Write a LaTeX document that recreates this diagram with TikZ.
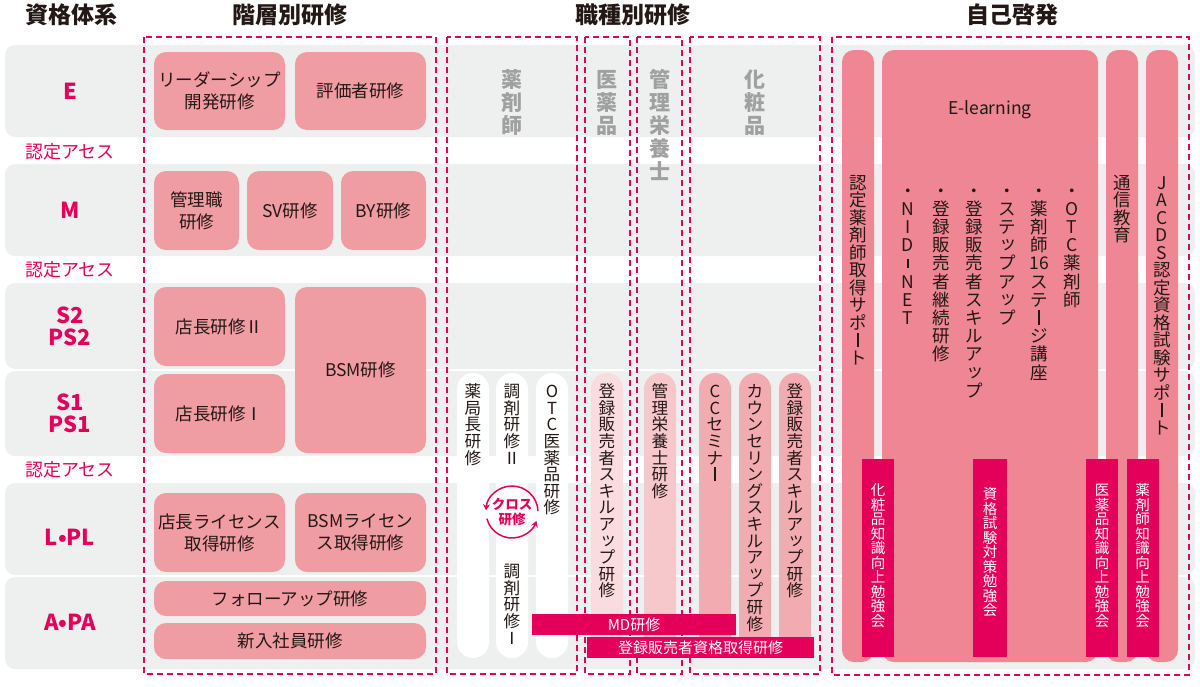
\documentclass[tikz,border=0pt]{standalone}
\usepackage{fontspec}
\setmainfont{Noto Sans CJK JP}
\usepackage{tikz}
\usetikzlibrary{arrows.meta,positioning}

\definecolor{mag}{RGB}{228,0,90}
\definecolor{rowgray}{RGB}{238,240,239}
\definecolor{boxpink}{RGB}{240,156,163}
\definecolor{selfpink}{RGB}{238,135,147}
\definecolor{pkA}{RGB}{250,219,222}
\definecolor{pkB}{RGB}{246,199,203}
\definecolor{pkC}{RGB}{241,171,177}
\definecolor{ink}{RGB}{35,24,21}
\definecolor{headgray}{RGB}{160,160,160}

\ExplSyntaxOn
\dim_new:N \l_vt_pitch_dim
\cs_new_protected:Npn \vt_cell:n #1
  {
    \hbox_to_wd:nn { 1em }
      {
        \hss
        \vrule height 0.88\l_vt_pitch_dim depth 0.12\l_vt_pitch_dim width 0pt
        \str_case:nnF { #1 }
          {
            { ー } { \vrule height 0.8em depth 0.02em width 0.07em }
            { - } { \vrule height 0.62em depth -0.08em width 0.08em }
            { ッ } { \kern 0.15em \raisebox{0.1em}{ッ} }
          }
          { #1 }
        \hss
      }
  }
\NewDocumentCommand \vtext { O{1} m }
  {
    \vbox
      {
        \offinterlineskip
        \dim_set:Nn \l_vt_pitch_dim { #1 em }
        \tl_map_function:nN { #2 } \vt_cell:n
      }
  }
\ExplSyntaxOff

\begin{document}
\begin{tikzpicture}[x=1pt, y=-1pt,
      every node/.style={inner sep=0pt, outer sep=0pt},
      title/.style={font=\fontsize{23}{26}\selectfont\bfseries, text=ink},
      level/.style={font=\fontsize{22}{22}\selectfont\bfseries, text=mag, align=center},
      assess/.style={font=\fontsize{18}{18}\selectfont, text=mag},
      band/.style={fill=rowgray, rounded corners=10pt},
      frame/.style={draw=mag, line width=1.2pt, dash pattern=on 6pt off 4pt},
      course/.style={fill=boxpink, rounded corners=12pt, align=center, text=ink,
                     font=\fontsize{17.5}{22}\selectfont},
      pill/.style={rounded corners=16pt, minimum width=32pt, minimum height=285pt},
      vlabel/.style={text=ink, font=\fontsize{16.6}{17}\selectfont},
      jobhead/.style={text=headgray, font=\fontsize{21}{21}\selectfont\bfseries, anchor=north},
      selfbar/.style={fill=selfpink, rounded corners=12pt, minimum width=32pt,
                      minimum height=612pt},
      selftext/.style={text=ink, font=\fontsize{17.5}{18}\selectfont},
      study/.style={fill=mag, minimum width=32pt, minimum height=198pt},
      studytext/.style={text=white, font=\fontsize{14.5}{15}\selectfont},
      strip/.style={fill=mag, text=white, font=\fontsize{15}{15}\selectfont,
                    minimum height=21pt},
      >={Stealth[length=6pt, width=7pt]}]

    \path[use as bounding box] (0,0) rectangle (1200,686);

    \node[title] (hsys) at (71,15) {資格体系};
    \node[title] (hlevel) at (290,15) {階層別研修};
    \node[title] (hjob) at (633,15) {職種別研修};
    \node[title] (hself) at (1012,15) {自己啓発};

    \fill[band] (5,45) rectangle (1195,137);
    \fill[band] (5,164) rectangle (1195,256);
    \fill[band] (5,283) rectangle (1195,369);
    \fill[band] (5,371) rectangle (1195,456);
    \fill[band] (5,483) rectangle (1195,575);
    \fill[band] (5,577) rectangle (1195,669);

    \node[level] (lvE) at (70,91) {E};
    \node[level] (lvM) at (70,210) {M};
    \node[level] (lvS2) at (70,326) {S2\\PS2};
    \node[level] (lvS1) at (70,413) {S1\\PS1};
    \node[level] (lvL) at (70,537) {L•PL};
    \node[level] (lvA) at (70,622) {A•PA};
    \node[assess] (as1) at (70,152) {認定アセス};
    \node[assess] (as2) at (70,270) {認定アセス};
    \node[assess] (as3) at (70,470) {認定アセス};

    \draw[frame] (144,37) rectangle (436,674);
    \draw[frame] (447,37) rectangle (577,674);
    \draw[frame] (585,37) rectangle (630,674);
    \draw[frame] (637,37) rectangle (682,674);
    \draw[frame] (690,37) rectangle (820,674);
    \draw[frame] (832,37) rectangle (1189,675);

    \node[course, minimum width=131pt, minimum height=78pt] (lead) at (219.5,91)
      {リーダーシップ\\開発研修};
    \node[course, minimum width=131pt, minimum height=78pt] (rater) at (360.5,91)
      {評価者研修};
    \node[course, minimum width=85pt, minimum height=79pt] (mgr) at (196.5,210.5)
      {管理職\\研修};
    \node[course, minimum width=86pt, minimum height=79pt] (sv) at (290,210.5)
      {SV研修};
    \node[course, minimum width=85pt, minimum height=79pt] (by) at (383.5,210.5)
      {BY研修};
    \node[course, minimum width=131pt, minimum height=79pt] (store2) at (219.5,326.5)
      {店長研修Ⅱ};
    \node[course, minimum width=131pt, minimum height=79pt] (store1) at (219.5,413.5)
      {店長研修Ⅰ};
    \node[course, minimum width=131pt, minimum height=166pt] (bsm) at (360.5,370)
      {BSM研修};
    \node[course, minimum width=131pt, minimum height=79pt] (storelic) at (219.5,532.5)
      {店長ライセンス\\取得研修};
    \node[course, minimum width=131pt, minimum height=79pt] (bsmlic) at (360.5,532.5)
      {BSMライセン\\ス取得研修};
    \node[course, minimum width=272pt, minimum height=35pt] (follow) at (290,598.5)
      {フォローアップ研修};
    \node[course, minimum width=272pt, minimum height=36pt] (newhire) at (290,641)
      {新入社員研修};

    \node[jobhead] (jpharm) at (512,67) {\vtext[1.1]{薬剤師}};
    \node[jobhead] (jdrug) at (607,67) {\vtext[1.1]{医薬品}};
    \node[jobhead] (jdiet) at (660,67) {\vtext[1.1]{管理栄養士}};
    \node[jobhead] (jcosm) at (755,67) {\vtext[1.1]{化粧品}};

    \node[pill, fill=white] (chief) at (473,515.5) {};
    \node[pill, fill=white] (disp) at (512,515.5) {};
    \node[pill, fill=white] (otc) at (552,515.5) {};
    \node[pill, fill=pkA] (drugskill) at (607,515.5) {};
    \node[pill, fill=pkB] (diet) at (660,515.5) {};
    \node[pill, fill=pkC] (ccsem) at (715,515.5) {};
    \node[pill, fill=pkC] (counsel) at (755,515.5) {};
    \node[pill, fill=pkC] (cosmskill) at (795,515.5) {};

    \node[vlabel, below=10pt of chief.north] (chiefl) {\vtext{薬局長研修}};
    \node[vlabel, below=10pt of disp.north] (disp2l) {\vtext{調剤研修Ⅱ}};
    \node[vlabel, below=190pt of disp.north] (disp1l) {\vtext{調剤研修Ⅰ}};
    \node[vlabel, below=10pt of otc.north] (otcl) {\vtext{OTC医薬品研修}};
    \node[vlabel, below=10pt of drugskill.north] (drugskilll)
      {\vtext{登録販売者スキルアップ研修}};
    \node[vlabel, below=10pt of diet.north] (dietl) {\vtext{管理栄養士研修}};
    \node[vlabel, below=10pt of ccsem.north] (ccseml) {\vtext{CCセミナー}};
    \node[vlabel, below=10pt of counsel.north] (counsell)
      {\vtext{カウンセリングスキルアップ研修}};
    \node[vlabel, below=10pt of cosmskill.north] (cosmskilll)
      {\vtext{登録販売者スキルアップ研修}};

    \node[circle, fill=white, minimum size=52pt, text=mag, align=center,
          font=\fontsize{13.5}{15}\selectfont\bfseries] (cross) at (512,512)
      {クロス\\研修};
    \draw[mag, line width=1.5pt, ->] (cross.2) arc[start angle=-2, end angle=-176, radius=26];
    \draw[mag, line width=1.5pt, ->] (cross.195) arc[start angle=-195, end angle=-340, radius=26];

    \node[strip, minimum width=204pt] (md) at (634,624.5) {MD研修};
    \node[strip, minimum width=227pt] (license) at (700.5,647.5) {登録販売者資格取得研修};

    \node[selfbar] (certsup) at (858,356) {};
    \node[selfbar, minimum width=216pt] (elearn) at (990,356) {};
    \node[selfbar] (corresp) at (1122,356) {};
    \node[selfbar] (jacds) at (1162,356) {};

    \node[selftext, below=124pt of certsup.north] (certsupl) {\vtext{認定薬剤師取得サポート}};
    \node[selftext] (elearnl) at (990,110) {E-learning};
    \node[selftext, anchor=north] (el1) at (908,181) {\vtext[1.04]{・NID-NET}};
    \node[selftext, anchor=north] (el2) at (941,181) {\vtext[1.04]{・登録販売者継続研修}};
    \node[selftext, anchor=north] (el3) at (974,181) {\vtext[1.04]{・登録販売者スキルアップ}};
    \node[selftext, anchor=north] (el4) at (1007,181) {\vtext[1.04]{・ステップアップ}};
    \node[selftext, anchor=north] (el5) at (1039,181) {\vtext[1.04]{・薬剤師{16}ステージ講座}};
    \node[selftext, anchor=north] (el6) at (1072,181) {\vtext[1.04]{・OTC薬剤師}};
    \node[selftext, below=124pt of corresp.north] (correspl) {\vtext{通信教育}};
    \node[selftext, below=124pt of jacds.north] (jacdsl) {\vtext{JACDS認定資格試験サポート}};

    \node[study] (stcosm) at (878,558) {};
    \node[study, minimum width=34pt] (stexam) at (990,558) {};
    \node[study] (stdrug) at (1102,558) {};
    \node[study] (stpharm) at (1142.5,558) {};
    \node[studytext, below=24pt of stcosm.north] (stcosml) {\vtext{化粧品知識向上勉強会}};
    \node[studytext, below=28pt of stexam.north] (stexaml) {\vtext{資格試験対策勉強会}};
    \node[studytext, below=24pt of stdrug.north] (stdrugl) {\vtext{医薬品知識向上勉強会}};
    \node[studytext, below=24pt of stpharm.north] (stpharml) {\vtext{薬剤師知識向上勉強会}};
  \end{tikzpicture}
\end{document}
